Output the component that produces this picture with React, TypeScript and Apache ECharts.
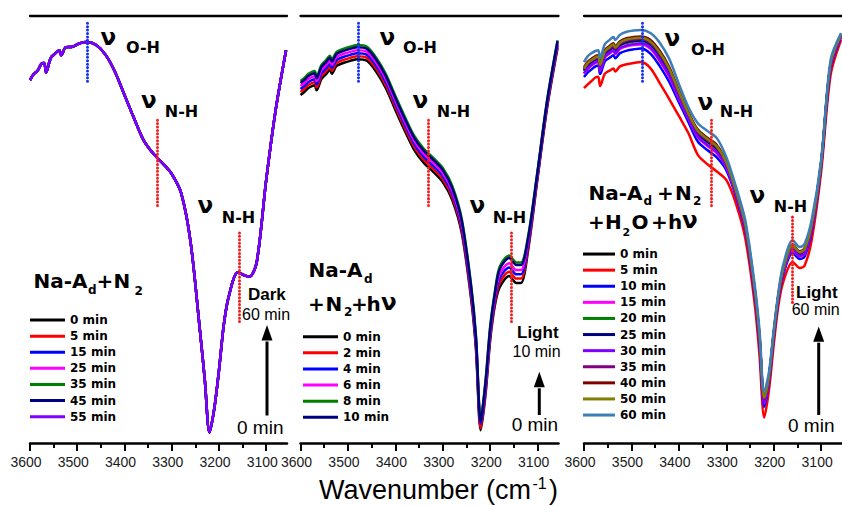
import React, { useEffect, useRef } from 'react';
import * as echarts from 'echarts';

// ---------- data ----------
const WAVENUMBERS = [3600, 3592, 3584, 3576, 3570, 3566, 3556, 3546, 3538, 3534, 3524, 3510, 3495, 3480, 3460, 3440, 3420, 3400, 3380, 3360, 3340, 3320, 3300, 3280, 3260, 3240, 3230, 3220, 3210, 3200, 3190, 3180, 3160, 3145, 3135, 3120, 3100, 3080, 3058];
const X_TICKS = [3600, 3500, 3400, 3300, 3200, 3100];
const X_MINOR_TICKS = [3550, 3450, 3350, 3250, 3150];
const X_MIN = 3056;
const X_MAX = 3600;

// Panel 1: Na-Ad + N2 (dark) - all spectra overlap
const P1_LABELS = ['0 min', '5 min', '15 min', '25 min', '35 min', '45 min', '55 min'];
const P1_COLORS = ['#000000', '#FF0000', '#0000FF', '#FF00FF', '#008000', '#000080', '#8000FF'];
const P1_SPECTRUM = [85.0, 86.4, 87.2, 88.8, 89.0, 86.8, 90.2, 91.3, 92.0, 90.8, 92.7, 92.8, 93.6, 93.9, 93.2, 90.9, 86.9, 81.5, 76.1, 71.0, 67.9, 65.6, 63.0, 58.5, 47.0, 26.0, 14.8, 2.5, 8.0, 17.0, 27.5, 34.0, 40.0, 39.2, 39.0, 42.4, 61.6, 78.0, 92.0];
const P1_MARKS = [3479, 3331, 3157];

// Panel 2: Na-Ad + N2 + hv
const P2_LABELS = ['0 min', '2 min', '4 min', '6 min', '8 min', '10 min'];
const P2_COLORS = ['#000000', '#FF0000', '#0000FF', '#FF00FF', '#008000', '#000080'];
const P2_0 = [81.5, 82.2, 83.1, 83.6, 83.8, 82.6, 85.2, 86.4, 87.4, 86.5, 88.3, 89.0, 89.5, 89.9, 89.5, 86.9, 83.1, 78.0, 73.1, 68.6, 65.6, 63.5, 61.1, 56.9, 49.2, 33.5, 21.8, 3.0, 11.2, 24.1, 32.3, 36.5, 39.1, 37.5, 37.5, 45.2, 62.1, 78.5, 92.5];
const P2_2 = [82.2, 82.9, 83.8, 84.3, 84.5, 83.3, 85.9, 87.1, 88.1, 87.2, 89.0, 89.7, 90.2, 90.6, 90.2, 87.6, 83.8, 78.7, 73.8, 69.3, 66.3, 64.2, 61.8, 57.6, 49.9, 34.2, 22.5, 3.5, 11.9, 24.8, 33.0, 37.5, 40.1, 38.5, 38.5, 45.9, 62.5, 78.9, 92.9];
const P2_4 = [82.9, 83.6, 84.5, 85.0, 85.2, 84.0, 86.6, 87.8, 88.8, 87.9, 89.7, 90.4, 90.9, 91.3, 90.9, 88.3, 84.5, 79.4, 74.5, 70.0, 67.0, 64.9, 62.5, 58.3, 50.6, 34.9, 23.2, 4.5, 12.6, 25.5, 33.7, 38.5, 41.1, 39.5, 39.5, 46.6, 62.9, 79.3, 93.3];
const P2_6 = [83.6, 84.3, 85.2, 85.7, 85.9, 84.7, 87.3, 88.5, 89.5, 88.6, 90.4, 91.1, 91.6, 92.0, 91.6, 89.0, 85.2, 80.1, 75.2, 70.7, 67.7, 65.6, 63.2, 59.0, 51.3, 35.6, 23.9, 6.0, 13.3, 26.2, 34.4, 39.5, 42.1, 40.5, 40.5, 47.3, 63.3, 79.7, 93.7];
const P2_8 = [84.8, 85.5, 86.4, 86.9, 87.1, 85.9, 88.5, 89.7, 90.7, 89.8, 91.6, 92.3, 92.8, 93.2, 92.8, 90.2, 86.4, 81.3, 76.4, 71.9, 68.9, 66.8, 64.4, 60.2, 52.5, 36.8, 25.1, 5.6, 14.5, 27.4, 35.6, 41.3, 43.9, 42.3, 42.3, 48.5, 63.9, 80.3, 94.3];
const P2_10 = [84.3, 85.0, 85.9, 86.4, 86.6, 85.4, 88.0, 89.2, 90.2, 89.3, 91.1, 91.8, 92.3, 92.7, 92.3, 89.7, 85.9, 80.8, 75.9, 71.4, 68.4, 66.3, 63.9, 59.7, 52.0, 36.3, 24.6, 5.2, 14.0, 26.9, 35.1, 40.7, 43.3, 41.7, 41.7, 48.0, 63.7, 80.1, 94.1];
const P2_MARKS = [3478, 3330, 3155];

// Panel 3: Na-Ad + N2 + H2O + hv
const P3_LABELS = ['0 min', '5 min', '10 min', '15 min', '20 min', '25 min', '30 min', '35 min', '40 min', '50 min', '60 min'];
const P3_COLORS = ['#000000', '#FF0000', '#0000FF', '#FF00FF', '#008000', '#000080', '#8000FF', '#800080', '#800000', '#808000', '#3D7DB8'];
const P3_0 = [87.6, 88.9, 89.6, 90.2, 90.4, 88.5, 91.6, 92.5, 93.2, 92.5, 93.7, 94.3, 94.6, 94.8, 93.9, 91.2, 87.5, 82.2, 77.1, 73.0, 71.1, 69.4, 65.6, 59.2, 51.1, 35.8, 25.0, 10.4, 15.5, 25.6, 34.6, 40.7, 46.2, 44.6, 45.3, 51.0, 65.6, 88.8, 95.6];
const P3_5 = [83.1, 84.0, 84.8, 85.6, 85.8, 83.6, 86.5, 87.2, 87.7, 87.0, 88.2, 88.7, 89.0, 89.2, 87.8, 84.2, 80.5, 76.6, 72.6, 67.5, 65.3, 63.6, 61.6, 56.2, 48.0, 32.5, 20.6, 6.0, 12.4, 23.0, 32.3, 37.7, 42.4, 41.0, 41.5, 47.5, 63.5, 86.2, 94.4];
const P3_10 = [85.7, 86.8, 87.5, 88.2, 88.4, 86.4, 89.4, 90.2, 90.8, 90.1, 91.3, 91.9, 92.2, 92.4, 91.2, 88.2, 84.5, 79.8, 75.2, 70.6, 68.6, 66.9, 63.9, 57.9, 49.8, 34.4, 23.1, 8.5, 14.2, 24.5, 33.6, 39.4, 44.5, 43.1, 43.6, 49.5, 64.7, 87.7, 95.1];
const P3_15 = [86.5, 87.6, 88.4, 89.0, 89.2, 87.2, 90.3, 91.2, 91.8, 91.1, 92.3, 92.9, 93.2, 93.3, 92.3, 89.4, 85.7, 80.7, 76.0, 71.6, 69.6, 67.9, 64.6, 58.4, 50.3, 35.0, 23.9, 9.3, 14.7, 24.9, 34.0, 39.9, 45.2, 43.7, 44.3, 50.1, 65.0, 88.1, 95.3];
const P3_20 = [87.1, 88.4, 89.1, 89.7, 89.9, 88.0, 91.1, 92.0, 92.6, 91.9, 93.1, 93.7, 94.0, 94.2, 93.2, 90.5, 86.7, 81.6, 76.6, 72.4, 70.5, 68.8, 65.2, 58.8, 50.8, 35.5, 24.5, 10.0, 15.2, 25.3, 34.4, 40.3, 45.8, 44.2, 44.9, 50.6, 65.4, 88.5, 95.5];
const P3_25 = [87.3, 88.5, 89.2, 89.8, 90.0, 88.1, 91.2, 92.1, 92.7, 92.0, 93.2, 93.9, 94.2, 94.3, 93.4, 90.7, 86.9, 81.7, 76.8, 72.5, 70.6, 68.9, 65.3, 58.9, 50.9, 35.6, 24.6, 10.1, 15.3, 25.4, 34.4, 40.4, 45.9, 44.3, 45.0, 50.7, 65.4, 88.6, 95.5];
const P3_30 = [86.6, 87.8, 88.6, 89.2, 89.4, 87.4, 90.5, 91.4, 92.0, 91.3, 92.5, 93.1, 93.4, 93.6, 92.6, 89.7, 86.0, 81.0, 76.1, 71.8, 69.8, 68.1, 64.7, 58.5, 50.4, 35.1, 24.0, 9.5, 14.8, 25.0, 34.1, 40.0, 45.4, 43.8, 44.5, 50.2, 65.1, 88.2, 95.3];
const P3_35 = [87.5, 88.8, 89.5, 90.1, 90.3, 88.4, 91.5, 92.4, 93.0, 92.3, 93.5, 94.2, 94.5, 94.6, 93.7, 91.0, 87.3, 82.0, 77.0, 72.8, 70.9, 69.2, 65.5, 59.1, 51.0, 35.7, 24.9, 10.3, 15.4, 25.5, 34.5, 40.6, 46.1, 44.5, 45.2, 50.9, 65.5, 88.7, 95.6];
const P3_40 = [88.0, 89.3, 90.0, 90.6, 90.8, 88.9, 92.0, 93.0, 93.6, 92.9, 94.1, 94.8, 95.1, 95.2, 94.4, 91.8, 88.0, 82.6, 77.5, 73.4, 71.5, 69.8, 65.9, 59.4, 51.4, 36.1, 25.3, 10.8, 15.8, 25.8, 34.8, 40.9, 46.5, 44.9, 45.6, 51.3, 65.7, 89.0, 95.7];
const P3_50 = [87.7, 89.0, 89.7, 90.3, 90.5, 88.6, 91.7, 92.7, 93.3, 92.6, 93.8, 94.5, 94.8, 94.9, 94.0, 91.4, 87.6, 82.3, 77.2, 73.1, 71.2, 69.5, 65.7, 59.2, 51.2, 35.9, 25.1, 10.6, 15.6, 25.7, 34.7, 40.7, 46.3, 44.7, 45.4, 51.1, 65.6, 88.9, 95.6];
const P3_60 = [89.2, 90.6, 91.3, 91.8, 92.0, 90.2, 93.4, 94.4, 95.1, 94.4, 95.6, 96.3, 96.6, 96.7, 96.0, 93.7, 89.9, 84.1, 78.7, 74.9, 73.1, 71.4, 67.0, 60.2, 52.2, 37.0, 26.5, 12.0, 16.6, 26.5, 35.4, 41.7, 47.5, 45.9, 46.6, 52.2, 66.3, 89.7, 96.0];
const P3_MARKS = [3478, 3331, 3160];

// ---------- layout / styles ----------
const GRIDS = [
  { left: 30, top: 16, width: 257, height: 427 },
  { left: 300.5, top: 16, width: 258, height: 427 },
  { left: 584, top: 16, width: 258, height: 427 },
];
const BOLD = '"DejaVu Sans", sans-serif';
const ARIAL = '"Liberation Sans", Arial, sans-serif';

function txt(text: string, x: number, baseline: number, size: number, weight = 'bold', family = BOLD, align = 'left') {
  return {
    type: 'text',
    z: 100,
    silent: true,
    style: {
      text,
      x,
      y: baseline - 0.35 * size,
      fontSize: size,
      fontFamily: family,
      fontWeight: weight,
      fill: '#000',
      align,
      verticalAlign: 'middle',
      textAlign: align,
      textVerticalAlign: 'middle',
    },
  };
}

function arrow(x: number, tipY: number, baseY: number, bottomY: number) {
  return [
    { type: 'line', z: 100, silent: true, shape: { x1: x, y1: bottomY, x2: x, y2: baseY + 1 }, style: { stroke: '#000', lineWidth: 3 } },
    { type: 'polygon', z: 100, silent: true, shape: { points: [[x - 5.5, baseY], [x + 5.5, baseY], [x, tipY]] }, style: { fill: '#000' } },
  ];
}

function buildOption() {
  const xAxis: any[] = [];
  const yAxis: any[] = [];
  GRIDS.forEach((_, g) => {
    xAxis.push({
      type: 'value', gridIndex: g, min: X_MIN, max: X_MAX, inverse: true, position: 'bottom',
      axisLine: { show: true, onZero: false, lineStyle: { color: '#000', width: 2.5 } },
      axisTick: { show: true, customValues: X_TICKS, length: 8, lineStyle: { color: '#000', width: 2 } },
      axisLabel: {
        show: true, customValues: X_TICKS, margin: 12, fontSize: 14, fontFamily: ARIAL, color: '#1a1a1a',
        padding: [0, 8, 0, 0], formatter: (v: number) => String(v),
      },
      splitLine: { show: false },
    });
    xAxis.push({
      type: 'value', gridIndex: g, min: X_MIN, max: X_MAX, inverse: true, position: 'bottom',
      axisLine: { show: false, onZero: false },
      axisTick: { show: true, customValues: X_MINOR_TICKS, length: 5, lineStyle: { color: '#000', width: 2 } },
      axisLabel: { show: false },
      splitLine: { show: false },
    });
    xAxis.push({
      type: 'value', gridIndex: g, min: X_MIN, max: X_MAX, inverse: true, position: 'top',
      axisLine: { show: true, onZero: false, lineStyle: { color: '#000', width: 2.3 } },
      axisTick: { show: false }, axisLabel: { show: false }, splitLine: { show: false },
    });
    yAxis.push({ type: 'value', gridIndex: g, min: 0, max: 100, show: false });
  });

  const panels = [
    { key: 'a', labels: P1_LABELS, colors: P1_COLORS, data: P1_LABELS.map(() => P1_SPECTRUM), marks: P1_MARKS, nh2: [49.2, 28.3] },
    { key: 'b', labels: P2_LABELS, colors: P2_COLORS, data: [P2_0, P2_2, P2_4, P2_6, P2_8, P2_10], marks: P2_MARKS, nh2: [49.2, 28.3] },
    { key: 'c', labels: P3_LABELS, colors: P3_COLORS, data: [P3_0, P3_5, P3_10, P3_15, P3_20, P3_25, P3_30, P3_35, P3_40, P3_50, P3_60], marks: P3_MARKS, nh2: [52.9, 32.3] },
  ];

  const series: any[] = [];
  panels.forEach((p, g) => {
    p.labels.forEach((lab, i) => {
      const s: any = {
        type: 'line',
        name: p.key + ':' + lab,
        xAxisIndex: g * 3,
        yAxisIndex: g,
        data: WAVENUMBERS.map((w, k) => [w, p.data[i][k]]),
        showSymbol: false,
        symbol: 'none',
        smooth: 0.3,
        silent: true,
        lineStyle: { width: 2.5, color: p.colors[i] },
        itemStyle: { color: p.colors[i] },
      };
      if (i === p.labels.length - 1) {
        const dot = (color: string) => ({ color, width: 3, type: [0.01, 3.4], cap: 'round' });
        s.markLine = {
          silent: true,
          symbol: ['none', 'none'],
          label: { show: false },
          z: 10,
          data: [
            [{ coord: [p.marks[0], 98.3], lineStyle: dot('#1530F0') }, { coord: [p.marks[0], 84.2] }],
            [{ coord: [p.marks[1], 75.6], lineStyle: dot('#F02020') }, { coord: [p.marks[1], 55.0] }],
            [{ coord: [p.marks[2], p.nh2[0]], lineStyle: dot('#F02020') }, { coord: [p.marks[2], p.nh2[1]] }],
          ],
        };
      }
      series.push(s);
    });
  });

  const legendBase = {
    orient: 'vertical', padding: 0, itemGap: 0, itemHeight: 3, icon: 'rect', selectedMode: false,
    formatter: (n: string) => n.split(':')[1],
    textStyle: { fontFamily: BOLD, fontWeight: 'bold', fontSize: 12, color: '#000', lineHeight: 16.1 },
  };
  const legend = [
    { ...legendBase, left: 30, top: 312, itemWidth: 35, data: P1_LABELS.map((l) => 'a:' + l) },
    { ...legendBase, left: 303, top: 328.7, itemWidth: 35, data: P2_LABELS.map((l) => 'b:' + l) },
    { ...legendBase, left: 583, top: 246, itemWidth: 32, data: P3_LABELS.map((l) => 'c:' + l) },
  ];

  const graphic: any[] = [
    // band labels, panel 1
    txt('ν', 100.5, 45, 23), txt('O-H', 126, 53.5, 16),
    txt('ν', 141, 108.5, 23), txt('N-H', 164.8, 117, 16),
    txt('ν', 197.5, 213.5, 23), txt('N-H', 221.8, 223, 16),
    // panel 2
    txt('ν', 379.5, 45, 23), txt('O-H', 403, 53.5, 16),
    txt('ν', 412.5, 108.5, 23), txt('N-H', 436.8, 117, 16),
    txt('ν', 469.5, 213.5, 23), txt('N-H', 492.8, 223, 16),
    // panel 3
    txt('ν', 664.5, 46, 23), txt('O-H', 691, 55, 16),
    txt('ν', 697.5, 110, 23), txt('N-H', 719.8, 117.5, 16),
    txt('ν', 749.5, 203, 23), txt('N-H', 773.8, 212, 16),
    // condition labels
    txt('Na-A', 33.5, 288, 20), txt('d', 88, 294.5, 12), txt('+', 96.5, 288, 20), txt('N', 113.5, 288, 20), txt('2', 134.5, 295, 12),
    txt('Na-A', 308.5, 276.5, 20), txt('d', 364, 283, 12),
    txt('+', 308, 310.5, 20), txt('N', 325.5, 310.5, 20), txt('2', 344, 316.5, 12), txt('+', 351, 310.5, 20), txt('h', 366.5, 310.5, 20), txt('ν', 381, 310.5, 23),
    txt('Na-A', 588.5, 199.5, 20), txt('d', 643.5, 205, 12), txt('+', 657, 199.5, 20), txt('N', 675, 199.5, 20), txt('2', 693, 205, 12),
    txt('+', 588, 228.5, 20), txt('H', 605, 228.5, 20), txt('2', 622.5, 236.5, 11), txt('O', 631.5, 228.5, 20), txt('+', 651, 228.5, 20), txt('h', 668, 228.5, 20), txt('ν', 682, 228.5, 23),
    // time annotations
    txt('Dark', 248, 300, 17, 'bold', ARIAL), txt('60 min', 242, 320, 16, 'normal', ARIAL), txt('0 min', 237, 434, 19, 'normal', ARIAL),
    txt('Light', 517, 338, 17, 'bold', ARIAL), txt('10 min', 512.5, 357.3, 16, 'normal', ARIAL), txt('0 min', 511.7, 430.7, 19, 'normal', ARIAL),
    txt('Light', 796, 298, 17, 'bold', ARIAL), txt('60 min', 791.7, 315, 16, 'normal', ARIAL), txt('0 min', 788, 431.7, 19, 'normal', ARIAL),
    ...arrow(267, 325, 340.5, 415.5),
    ...arrow(539.3, 371.7, 387.3, 415),
    ...arrow(818.7, 326.5, 341.7, 415),
    // x-axis title: "Wavenumber (cm" + superscript "-1" + ")"
    txt('Wavenumber (cm', 531, 499.5, 27, 'normal', ARIAL, 'right'),
    txt('-1', 532.5, 489.5, 16, 'normal', ARIAL, 'left'),
    txt(')', 549, 499.5, 27, 'normal', ARIAL, 'left'),
  ];

  return {
    animation: false,
    backgroundColor: '#ffffff',
    grid: GRIDS,
    xAxis,
    yAxis,
    legend,
    series,
    graphic,
  };
}

export default function App() {
  const ref = useRef<HTMLDivElement>(null);
  useEffect(() => {
    if (!ref.current) return;
    const chart = echarts.init(ref.current, undefined, { renderer: 'svg' });
    chart.setOption(buildOption() as any);
    return () => chart.dispose();
  }, []);
  return <div ref={ref} style={{ position: 'fixed', left: 0, top: 0, width: 842, height: 506, background: '#fff' }} />;
}
